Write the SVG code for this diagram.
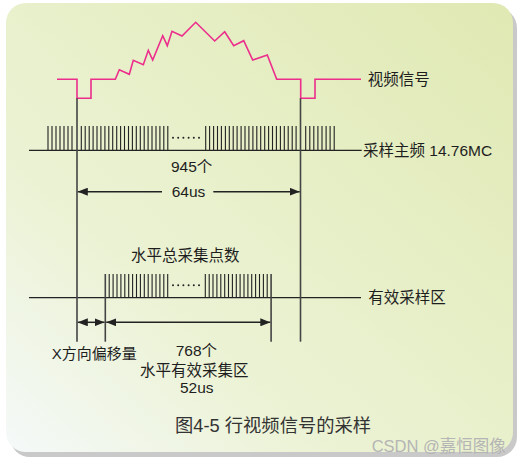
<svg xmlns="http://www.w3.org/2000/svg" width="525" height="464" viewBox="0 0 525 464">
<defs>
<linearGradient id="bg" x1="0" y1="1" x2="1" y2="0">
<stop offset="0" stop-color="#f5f9f9"/>
<stop offset="0.3" stop-color="#ecf3d6"/>
<stop offset="1" stop-color="#e0e9b3"/>
</linearGradient>
<marker id="ah" markerUnits="userSpaceOnUse" markerWidth="10" markerHeight="8" refX="10" refY="4" orient="auto-start-reverse">
<path d="M0,0 L10,4 L0,8 z" fill="#222"/>
</marker>
<style>
.t{font-family:"Liberation Sans","Noto Sans CJK SC",sans-serif;font-size:15.5px;fill:#1e1e1e}
.ln{stroke:#222;stroke-width:1.3;fill:none}
.tk{stroke:#222;stroke-width:1.1;fill:none}
.vl{stroke:#444;stroke-width:1.6;fill:none}
.ar{stroke:#222;stroke-width:1.5;fill:none;marker-start:url(#ah);marker-end:url(#ah)}
.ar1{stroke:#222;stroke-width:1.5;fill:none}
.dot{fill:#222}
</style>
</defs>
<g id="card">
<rect x="10" y="8" width="507" height="449" rx="20" fill="#c9c9c9"/>
<rect x="6" y="3" width="507" height="449" rx="20" fill="url(#bg)"/>
</g>
<g id="video-signal">
<polyline points="57,79.3 77,79.3 77,98.3 91,98.3 91,79.3 115.3,79.3 119.3,69.7 129.3,74.3 133.3,60.3 143.3,64.7 148.3,50.3 152.7,60 162.7,35.7 167.3,45.7 172,31.3 182,36 195.7,22.3 214.7,41 224.7,31.7 233.7,45.7 243.7,40.7 252.7,60 267.3,55 276.7,79.3 300.7,79.3 300.7,98.3 315,98.3 315,79.3 361,79.3" fill="none" stroke="#ec2d8c" stroke-width="1.6"/>
<text class="t" x="367.7" y="85">视频信号</text>
</g>
<g id="main-sampling">
<line class="ln" x1="29" y1="150.3" x2="361.7" y2="150.3"/>
<path class="tk" d="M48 126v24M52 126v24M56 126v24M60 126v24M64 126v24M68 126v24M72 126v24M81.3 126v24M85.2 126v24M89.2 126v24M93.1 126v24M97 126v24M100.9 126v24M104.9 126v24M108.8 126v24M112.7 126v24M116.7 126v24M120.6 126v24M124.5 126v24M128.5 126v24M132.4 126v24M136.3 126v24M140.3 126v24M144.2 126v24M148.1 126v24M152 126v24M156 126v24M159.9 126v24M163.8 126v24M167.8 126v24M205.7 126v24M209.6 126v24M213.6 126v24M217.5 126v24M221.4 126v24M225.4 126v24M229.3 126v24M233.2 126v24M237.1 126v24M241.1 126v24M245 126v24M248.9 126v24M252.9 126v24M256.8 126v24M260.7 126v24M264.7 126v24M268.6 126v24M272.5 126v24M276.4 126v24M280.4 126v24M284.3 126v24M288.2 126v24M292.2 126v24M296.1 126v24M305.7 126v24M309.8 126v24M313.8 126v24M317.9 126v24M322 126v24M326.1 126v24M330.1 126v24M334.2 126v24"/>
<g class="dot"><circle cx="173" cy="137.7" r="1"/><circle cx="178.2" cy="137.7" r="1"/><circle cx="183.4" cy="137.7" r="1"/><circle cx="188.6" cy="137.7" r="1"/><circle cx="193.8" cy="137.7" r="1"/><circle cx="199" cy="137.7" r="1"/></g>
<text class="t" x="363" y="156">采样主频 14.76MC</text>
</g>
<g id="effective-sampling">
<line class="ln" x1="29" y1="297.7" x2="361" y2="297.7"/>
<path class="tk" d="M109.2 274v23.7M113.1 274v23.7M117 274v23.7M120.9 274v23.7M124.8 274v23.7M128.7 274v23.7M132.6 274v23.7M136.5 274v23.7M140.4 274v23.7M144.3 274v23.7M148.2 274v23.7M152.1 274v23.7M156 274v23.7M159.9 274v23.7M163.8 274v23.7M167.7 274v23.7M205.3 274v23.7M209.2 274v23.7M213 274v23.7M216.9 274v23.7M220.8 274v23.7M224.7 274v23.7M228.5 274v23.7M232.4 274v23.7M236.3 274v23.7M240.1 274v23.7M244 274v23.7M247.9 274v23.7M251.7 274v23.7M255.6 274v23.7M259.5 274v23.7M263.4 274v23.7M267.2 274v23.7"/>
<g class="dot"><circle cx="173" cy="285.3" r="1"/><circle cx="178.2" cy="285.3" r="1"/><circle cx="183.4" cy="285.3" r="1"/><circle cx="188.6" cy="285.3" r="1"/><circle cx="193.8" cy="285.3" r="1"/><circle cx="199" cy="285.3" r="1"/></g>
<text class="t" x="131" y="261">水平总采集点数</text>
<text class="t" x="368.3" y="303">有效采样区</text>
</g>
<g id="connectors">
<line class="vl" x1="77" y1="98.3" x2="77" y2="341.7"/>
<line class="vl" x1="300.5" y1="98.3" x2="300.5" y2="341.7"/>
<line class="vl" x1="105.3" y1="274" x2="105.3" y2="341.7"/>
<line class="vl" x1="271.1" y1="274" x2="271.1" y2="341.7"/>
<line class="ar1" x1="77.8" y1="191.7" x2="162" y2="191.7" marker-start="url(#ah)"/>
<line class="ar1" x1="213.3" y1="191.7" x2="299.7" y2="191.7" marker-end="url(#ah)"/>
<line class="ar" x1="77.8" y1="322.3" x2="104.5" y2="322.3"/>
<line class="ar" x1="106.2" y1="322.3" x2="270.3" y2="322.3"/>
</g>
<g id="labels">
<text class="t" x="171" y="172">945个</text>
<text class="t" x="171.7" y="197.3">64us</text>
<text class="t" x="51.7" y="359" style="font-size:15px">X方向偏移量</text>
<text class="t" x="175.7" y="356">768个</text>
<text class="t" x="140" y="376">水平有效采集区</text>
<text class="t" x="180" y="393">52us</text>
</g>
<g id="caption">
<text class="t" x="175" y="432" style="font-size:18.3px;fill:#333">图4-5 行视频信号的采样</text>
<text class="t" x="371.7" y="451.5" style="font-size:16.5px;fill:#b5b5b5">CSDN @嘉恒图像</text>
</g>
</svg>
